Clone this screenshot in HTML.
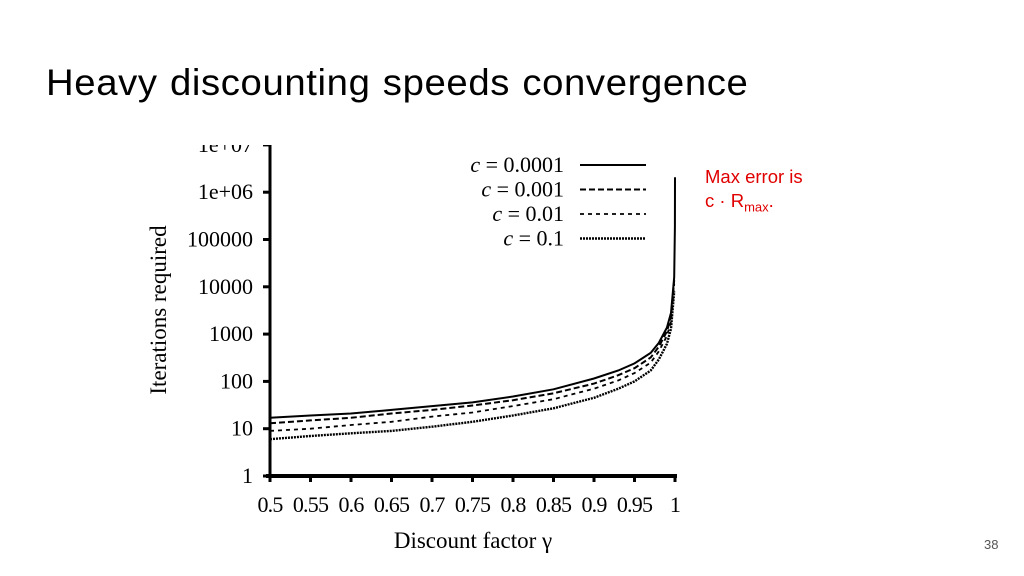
<!DOCTYPE html>
<html><head><meta charset="utf-8"><style>
body{margin:0;width:1024px;height:576px;background:#fff;overflow:hidden;position:relative;font-family:"Liberation Sans",sans-serif}
#title{position:absolute;left:46px;top:62px;font-size:37px;color:#000;margin:0;font-weight:normal;letter-spacing:0.6px;word-spacing:1px;transform:scaleX(1.035);transform-origin:left}
#note{position:absolute;left:705px;top:165px;font-size:18.5px;color:#e00000;line-height:24px}
#pg{position:absolute;left:984px;top:537px;font-size:13px;color:#555}
svg{position:absolute;left:0;top:0}
</style></head><body>
<h1 id="title">Heavy discounting speeds convergence</h1>
<div id="note">Max error is<br>c · R<sub style="font-size:13px">max</sub>.</div>
<div id="pg">38</div>
<svg id="chart" width="1024" height="576"></svg>
<script>
const gammas=[0.5,0.55,0.6,0.65,0.7,0.75,0.8,0.85,0.9,0.93,0.95,0.97,0.98,0.99,0.995,0.999,0.9999,0.99999];
const seriesC0001=[17,19,21,25,30,36,48,68,115,170,240,400,650,1370,2800,16000,184000,2070000];
const seriesC001=[13,15,17,21,25,31,40,56,90,135,190,320,540,1140,2300,13800];
const seriesC01=[9,10,12,14,18,22,30,42,70,105,150,250,430,910,1850,11500];
const seriesC1=[6,7,8,9,11,14,19,27,45,70,100,170,290,620,1300,8000];
const xTicks=[0.5,0.55,0.6,0.65,0.7,0.75,0.8,0.85,0.9,0.95,1];
const xTickLabels=["0.5","0.55","0.6","0.65","0.7","0.75","0.8","0.85","0.9","0.95","1"];
const yTicks=[1,10,100,1000,10000,100000,1000000,10000000];
const yTickLabels=["1","10","100","1000","10000","100000","1e+06","1e+07"];
const legendLabels=["0.0001","0.001","0.01","0.1"];
const NS="http://www.w3.org/2000/svg";
const svg=document.getElementById('chart');
const X0=270,X1=675,Y0=476,DEC=47.3,TOP=145;
const xs=g=>X0+(g-0.5)/0.5*(X1-X0);
const ys=v=>Y0-Math.log10(v)*DEC;
function mk(t,a){const e=document.createElementNS(NS,t);for(const k in a)e.setAttribute(k,a[k]);svg.appendChild(e);return e;}
const defs=mk('defs',{});
const cp=document.createElementNS(NS,'clipPath');cp.setAttribute('id','clip');
const r=document.createElementNS(NS,'rect');r.setAttribute('x',0);r.setAttribute('y',TOP);r.setAttribute('width',1024);r.setAttribute('height',400);cp.appendChild(r);defs.appendChild(cp);
const ff='"Liberation Serif",serif';
let e=mk('line',{x1:X0,y1:TOP,x2:X0,y2:Y0,stroke:'#000','stroke-width':3});

e=mk('line',{x1:X0-4,y1:Y0,x2:X1+2,y2:Y0,stroke:'#000','stroke-width':4});

xTicks.forEach((t,i)=>{
  const l=mk('line',{x1:xs(t),y1:Y0,x2:xs(t),y2:Y0+6,stroke:'#000','stroke-width':3});
  
  const tx=mk('text',{x:xs(t),y:512,'text-anchor':'middle','font-family':ff,'font-size':22,'letter-spacing':-0.8});
  tx.textContent=xTickLabels[i];
  
});
yTicks.forEach((t,i)=>{
  const g=mk('g',{'clip-path':'url(#clip)'});
  const l=document.createElementNS(NS,'line');
  [['x1',X0-7],['x2',X0],['y1',ys(t)],['y2',ys(t)],['stroke','#000'],['stroke-width',3]].forEach(p=>l.setAttribute(p[0],p[1]));
  g.appendChild(l);
  const tx=document.createElementNS(NS,'text');
  [['x',X0-17],['y',ys(t)+7],['text-anchor','end'],['font-family',ff],['font-size',22]].forEach(p=>tx.setAttribute(p[0],p[1]));
  tx.textContent=yTickLabels[i];
  g.appendChild(tx);
});
e=mk('text',{x:0,y:0,transform:'translate(166,310) rotate(-90)','text-anchor':'middle','font-family':ff,'font-size':23});
e.textContent='Iterations required';

e=mk('text',{x:473,y:548,'text-anchor':'middle','font-family':ff,'font-size':23});
e.textContent='Discount factor γ';

const all=[seriesC0001,seriesC001,seriesC01,seriesC1];
const dashes=['none','6,3','4,4','2,1'];
const widths=[2,2,1.8,2.4];
all.forEach((s,k)=>{
  const d=s.map((v,i)=>(i?'L':'M')+xs(gammas[i]).toFixed(1)+','+ys(v).toFixed(1)).join(' ');
  const p=mk('path',{d:d,fill:'none',stroke:'#000','stroke-width':widths[k],'stroke-dasharray':dashes[k],'clip-path':'url(#clip)'});
  
  const ly=165+k*24.5;
  const t=mk('text',{x:564,y:ly+7,'text-anchor':'end','font-family':ff,'font-size':22});
  t.innerHTML='<tspan font-style="italic">c</tspan> = '+legendLabels[k];
  
  const ll=mk('line',{x1:580,y1:ly,x2:646,y2:ly,stroke:'#000','stroke-width':widths[k],'stroke-dasharray':dashes[k]});
  
});
</script>
</body></html>
